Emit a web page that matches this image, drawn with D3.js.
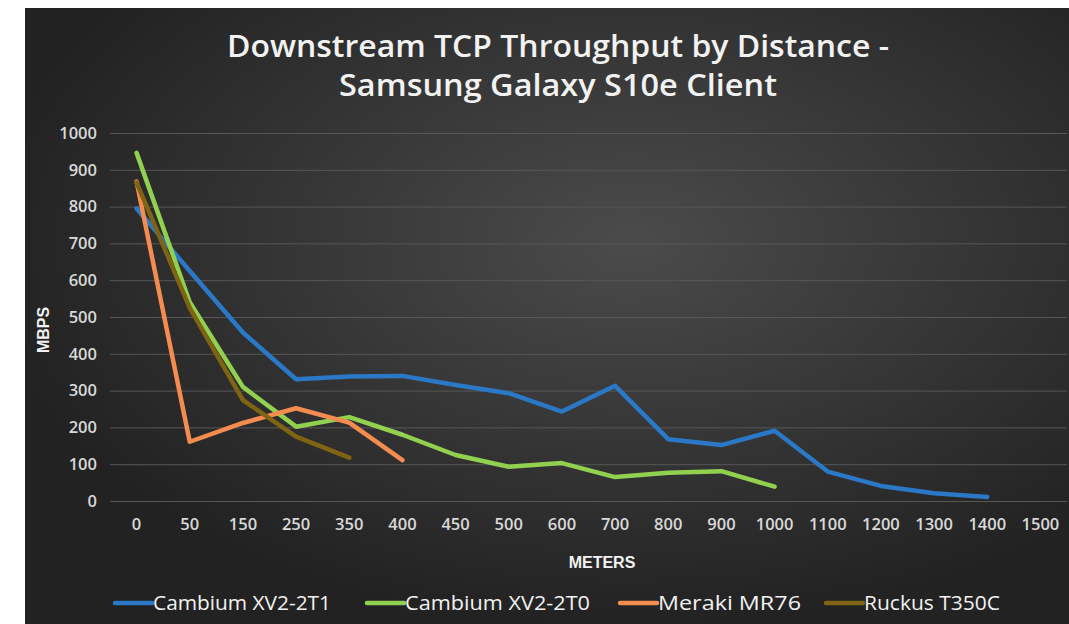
<!DOCTYPE html>
<html>
<head>
<meta charset="utf-8">
<script src="https://cdn.jsdelivr.net/npm/d3@7"></script>
<style>
  body { margin: 0; background: #fff; }
  svg { display: block; }
</style>
</head>
<body>
<div id="chart"></div>
<script>
const meters = ["0", "50", "150", "250", "350", "400", "450", "500", "600", "700",
  "800", "900", "1000", "1100", "1200", "1300", "1400", "1500"];
const yTicks = [0, 100, 200, 300, 400, 500, 600, 700, 800, 900, 1000];

const cambium2T1 = [795, 625, 458, 331, 338, 340, 315, 293, 243, 313, 168, 152, 191, 80, 41, 21, 11];
const cambium2T0 = [946, 540, 310, 202, 228, 180, 125, 93, 103, 65, 77, 81, 39];
const merakiMR76 = [868, 161, 212, 252, 213, 111];
const ruckusT350C = [865, 525, 274, 175, 118];

const seriesNames = ["Cambium XV2-2T1", "Cambium XV2-2T0", "Meraki MR76", "Ruckus T350C"];
const seriesValues = [cambium2T1, cambium2T0, merakiMR76, ruckusT350C];
const seriesColors = ["#2a78c6", "#92d050", "#f58c4f", "#7f6414"];

const width = 1069;
const height = 624;
const plot = { left: 110, right: 1067, top: 133, bottom: 501 };

const svg = d3.select("#chart")
  .append("svg")
  .attr("width", width)
  .attr("height", height);

const defs = svg.append("defs");
const bg = defs.append("radialGradient")
  .attr("id", "bg")
  .attr("cx", "58%")
  .attr("cy", "38%")
  .attr("r", "62%");
bg.append("stop").attr("offset", "0%").attr("stop-color", "#4b4b4b");
bg.append("stop").attr("offset", "100%").attr("stop-color", "#222222");

// chart area (white margin top/left like the screenshot)
svg.append("rect")
  .attr("x", 25)
  .attr("y", 8)
  .attr("width", width - 25)
  .attr("height", height - 8)
  .attr("fill", "url(#bg)");

const xScale = d3.scaleBand()
  .domain(meters)
  .range([plot.left, plot.right])
  .padding(0);

const yScale = d3.scaleLinear()
  .domain([0, 1000])
  .range([plot.bottom, plot.top]);

const xPos = i => xScale(meters[i]) + xScale.bandwidth() / 2;

const tickFont = sel => sel
  .attr("fill", "#d9d9d9")
  .style("font-family", "'Open Sans', sans-serif")
  .style("font-size", "16.5px")
  .style("font-weight", "600");

// gridlines + y labels
const yAxis = d3.axisLeft(yScale)
  .tickValues(yTicks)
  .tickFormat(d3.format("d"))
  .tickSize(-(plot.right - plot.left))
  .tickPadding(13);

const yg = svg.append("g")
  .attr("transform", "translate(" + plot.left + ",0)")
  .call(yAxis);
yg.select(".domain").remove();
yg.selectAll(".tick line")
  .attr("stroke", "#575757")
  .attr("stroke-width", 1);
yg.selectAll(".tick text").call(tickFont);

// x labels
const xAxis = d3.axisBottom(xScale).tickSize(0).tickPadding(17);
const xg = svg.append("g")
  .attr("transform", "translate(0," + plot.bottom + ")")
  .call(xAxis);
xg.select(".domain").remove();
xg.selectAll(".tick text").call(tickFont);

// lines
const line = d3.line()
  .x((d, i) => xPos(i))
  .y(d => yScale(d));

seriesValues.forEach((vals, k) => {
  svg.append("path")
    .datum(vals)
    .attr("d", line)
    .attr("fill", "none")
    .attr("stroke", seriesColors[k])
    .attr("stroke-width", 4.5)
    .attr("stroke-linejoin", "round")
    .attr("stroke-linecap", "round");
});

// title
const title = ["Downstream TCP Throughput by Distance -", "Samsung Galaxy S10e Client"];
const titleWidths = [662, 438];
title.forEach((t, i) => {
  svg.append("text")
    .attr("x", 558)
    .attr("y", 57 + i * 39)
    .attr("text-anchor", "middle")
    .attr("fill", "#f2f2f2")
    .attr("textLength", titleWidths[i])
    .attr("lengthAdjust", "spacingAndGlyphs")
    .style("font-family", "'Open Sans', sans-serif")
    .style("font-size", "31px")
    .style("font-weight", "600")
    .text(t);
});

// axis titles
svg.append("text")
  .attr("transform", "translate(49,330) rotate(-90)")
  .attr("text-anchor", "middle")
  .attr("fill", "#f2f2f2")
  .style("font-family", "'Liberation Sans', Arial, sans-serif")
  .style("font-size", "16px")
  .style("font-weight", "bold")
  .text("MBPS");

svg.append("text")
  .attr("x", 602)
  .attr("y", 568)
  .attr("text-anchor", "middle")
  .attr("fill", "#f2f2f2")
  .style("font-family", "'Liberation Sans', Arial, sans-serif")
  .style("font-size", "16px")
  .style("font-weight", "bold")
  .text("METERS");

// legend
const legendX = [115, 367, 620, 826];
const legendTextW = [178, 185, 143, 136];
seriesNames.forEach((name, k) => {
  const g = svg.append("g").attr("transform", "translate(" + legendX[k] + ",603)");
  g.append("line")
    .attr("x1", 0).attr("x2", 37)
    .attr("y1", 0).attr("y2", 0)
    .attr("stroke", seriesColors[k])
    .attr("stroke-width", 4.5)
    .attr("stroke-linecap", "round");
  g.append("text")
    .attr("x", 38)
    .attr("y", 7)
    .attr("fill", "#f2f2f2")
    .attr("textLength", legendTextW[k])
    .attr("lengthAdjust", "spacingAndGlyphs")
    .style("font-family", "'Open Sans', sans-serif")
    .style("font-size", "20px")
    .style("font-weight", "500")
    .text(name);
});
</script>
</body>
</html>
